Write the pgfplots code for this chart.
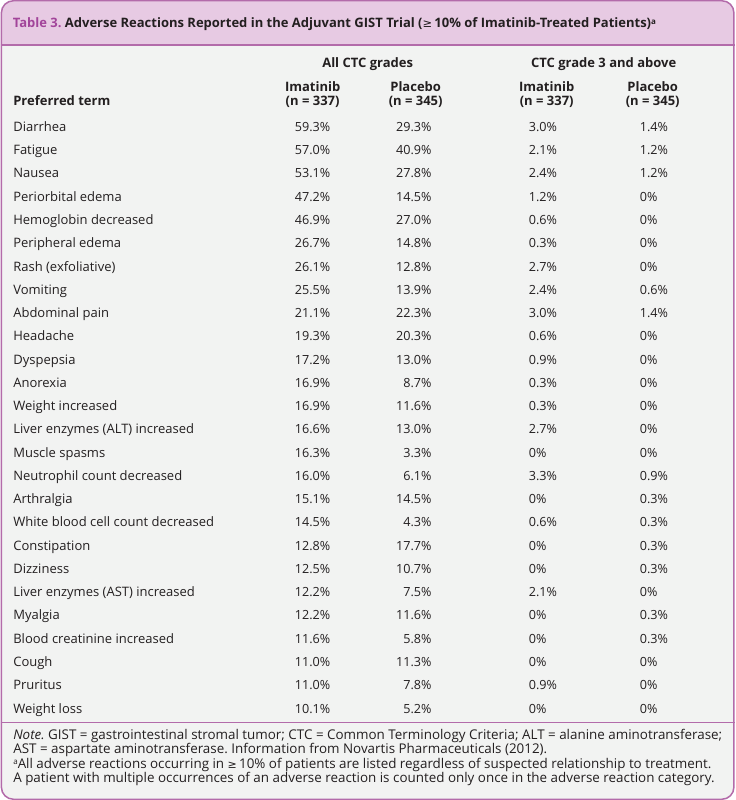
\documentclass[border=0pt]{standalone}
\usepackage{pgfplots}
\pgfplotsset{compat=1.18}
\usepackage{pgfplotstable}
\usepackage{fontspec}
\setmainfont{Open Sans}
\newfontfamily\sym{DejaVu Sans}
\frenchspacing
\definecolor{bodybg}{HTML}{F2F3F2}
\definecolor{headbg}{HTML}{E7CAE3}
\definecolor{bordc}{HTML}{B36BAA}
\definecolor{tabc}{HTML}{A2449A}
\definecolor{txt}{HTML}{231F20}

\pgfplotstableread[col sep=comma]{
name,imat,plac,imatg,placg
Diarrhea,59.3,29.3,3.0,1.4
Fatigue,57.0,40.9,2.1,1.2
Nausea,53.1,27.8,2.4,1.2
Periorbital edema,47.2,14.5,1.2,0
Hemoglobin decreased,46.9,27.0,0.6,0
Peripheral edema,26.7,14.8,0.3,0
Rash (exfoliative),26.1,12.8,2.7,0
Vomiting,25.5,13.9,2.4,0.6
Abdominal pain,21.1,22.3,3.0,1.4
Headache,19.3,20.3,0.6,0
Dyspepsia,17.2,13.0,0.9,0
Anorexia,16.9,8.7,0.3,0
Weight increased,16.9,11.6,0.3,0
Liver enzymes (ALT) increased,16.6,13.0,2.7,0
Muscle spasms,16.3,3.3,0,0
Neutrophil count decreased,16.0,6.1,3.3,0.9
Arthralgia,15.1,14.5,0,0.3
White blood cell count decreased,14.5,4.3,0.6,0.3
Constipation,12.8,17.7,0,0.3
Dizziness,12.5,10.7,0,0.3
Liver enzymes (AST) increased,12.2,7.5,2.1,0
Myalgia,12.2,11.6,0,0.3
Blood creatinine increased,11.6,5.8,0,0.3
Cough,11.0,11.3,0,0
Pruritus,11.0,7.8,0.9,0
Weight loss,10.1,5.2,0,0
}\adverse

\newcommand\bodyfont{\fontsize{13bp}{13bp}\selectfont}
\newcommand\notefont{\fontsize{13.4bp}{13bp}\selectfont}
\newcommand\numfont{\fontsize{12.6bp}{13bp}\selectfont}
\newcommand\supa{{\fontsize{8bp}{8bp}\selectfont\raisebox{3.2bp}{a}}}
\begin{document}
\begin{tikzpicture}
\begin{axis}[
  scale only axis, width=734bp, height=800bp,
  xmin=0, xmax=734, ymin=0, ymax=800, y dir=reverse,
  axis lines=none, ticks=none, clip=false,
  every axis plot/.append style={draw=none, mark=none},
  cell/.style={only marks, mark=none, nodes near coords={\pgfplotspointmeta},
    point meta=explicit symbolic,
    nodes near coords style={inner sep=0pt, text=txt, font=\numfont, anchor=#1}},
]
% backgrounds
\fill[bodybg, rounded corners=12bp] (axis cs:0.8,0.8) rectangle (axis cs:733.2,799.2);
\fill[headbg] (axis cs:0.8,45) [rounded corners=12bp] -- (axis cs:0.8,0.8) -- (axis cs:733.2,0.8) [sharp corners] -- (axis cs:733.2,45) -- cycle;
\draw[bordc, line width=1.2bp] (axis cs:0,45) -- (axis cs:734,45);
\draw[bordc, line width=1.2bp] (axis cs:0,722.5) -- (axis cs:734,722.5);
\draw[bordc, line width=1.5bp, rounded corners=12bp] (axis cs:0.8,0.8) rectangle (axis cs:733.2,799.2);

% title
\node[anchor=base west, inner sep=0pt, text=txt, font=\fontsize{13bp}{14bp}\selectfont\bfseries] at (axis cs:12,27.5)
  {\textcolor{tabc}{Table 3.} Adverse Reactions Reported in the Adjuvant GIST Trial ({\sym\mdseries\fontsize{11.5bp}{13bp}\selectfont ≥}\,10\% of Imatinib-Treated Patients)\supa};

% column headers
\begin{scope}[every node/.style={inner sep=0pt, text=txt, font=\bodyfont\bfseries}]
\node[anchor=base] at (axis cs:367,68) {All CTC grades};
\node[anchor=base] at (axis cs:603,68) {CTC grade 3 and above};
\node[anchor=base] at (axis cs:312,92) {Imatinib};
\node[anchor=base] at (axis cs:312,105.5) {(n = 337)};
\node[anchor=base] at (axis cs:415,92) {Placebo};
\node[anchor=base] at (axis cs:415,105.5) {(n = 345)};
\node[anchor=base] at (axis cs:546,92) {Imatinib};
\node[anchor=base] at (axis cs:546,105.5) {(n = 337)};
\node[anchor=base] at (axis cs:652,92) {Placebo};
\node[anchor=base] at (axis cs:652,105.5) {(n = 345)};
\node[anchor=base west] at (axis cs:12.5,105.5) {Preferred term};
\end{scope}

% rows
\addplot[cell=base west, nodes near coords style={font=\bodyfont}] table[x expr=12.5, y expr={131.5+23.26*\coordindex}, meta=name] {\adverse};
\addplot[cell=base west, nodes near coords={\pgfplotspointmeta\%}] table[x expr=294, y expr={131.5+23.26*\coordindex}, meta=imat] {\adverse};
\addplot[cell=base east, nodes near coords={\pgfplotspointmeta\%}] table[x expr=431, y expr={131.5+23.26*\coordindex}, meta=plac] {\adverse};
\addplot[cell=base west, nodes near coords={\pgfplotspointmeta\%}] table[x expr=528, y expr={131.5+23.26*\coordindex}, meta=imatg] {\adverse};
\addplot[cell=base west, nodes near coords={\pgfplotspointmeta\%}] table[x expr=639, y expr={131.5+23.26*\coordindex}, meta=placg] {\adverse};

% notes
\begin{scope}[every node/.style={inner sep=0pt, anchor=base west, text=txt, font=\notefont}]
\node at (axis cs:12.5,739) {\textit{Note.} GIST = gastrointestinal stromal tumor; CTC = Common Terminology Criteria; ALT = alanine aminotransferase;};
\node at (axis cs:12.5,753.5) {AST = aspartate aminotransferase. Information from Novartis Pharmaceuticals (2012).};
\node at (axis cs:12.5,768) {\supa All adverse reactions occurring in {\sym\fontsize{11bp}{13bp}\selectfont ≥}\,10\% of patients are listed regardless of suspected relationship to treatment.};
\node at (axis cs:12.5,782.5) {A patient with multiple occurrences of an adverse reaction is counted only once in the adverse reaction category.};
\end{scope}
\end{axis}
\end{tikzpicture}
\end{document}
